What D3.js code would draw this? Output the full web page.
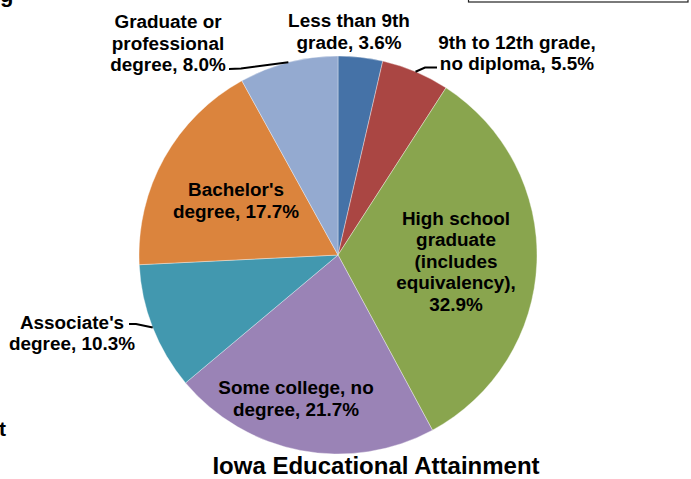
<!DOCTYPE html>
<html>
<head>
<meta charset="utf-8">
<script src="https://cdn.jsdelivr.net/npm/d3@7"></script>
<style>
  html, body { margin: 0; padding: 0; background: #fff; }
  svg { display: block; }
  text { font-family: "Liberation Sans", Arial, sans-serif; font-weight: bold; fill: #000; }
</style>
</head>
<body>
<svg id="chart" width="691" height="479"></svg>
<script>
// ---- data ----
const categories = [
  "Less than 9th grade",
  "9th to 12th grade, no diploma",
  "High school graduate (includes equivalency)",
  "Some college, no degree",
  "Associate's degree",
  "Bachelor's degree",
  "Graduate or professional degree"
];
const values = [3.6, 5.5, 32.9, 21.7, 10.3, 17.7, 8.0];
const labelLines = [
  ["Less than 9th", "grade, 3.6%"],
  ["9th to 12th grade,", "no diploma, 5.5%"],
  ["High school", "graduate", "(includes", "equivalency),", "32.9%"],
  ["Some college, no", "degree, 21.7%"],
  ["Associate's", "degree, 10.3%"],
  ["Bachelor's", "degree, 17.7%"],
  ["Graduate or", "professional", "degree, 8.0%"]
];
const colors = ["#4572A7", "#AA4643", "#89A54E", "#9A83B6", "#4298AF", "#DB843D", "#94AAD0"];
const title = "Iowa Educational Attainment";

// ---- layout (pixel positions, not data) ----
const cx = 338, cy = 255, R = 199;
const lineH = 21.5;
const labelLayout = [
  { x: 349, y: 27 },
  { x: 517, y: 48.5 },
  { x: 456, y: 224.5 },
  { x: 296, y: 394 },
  { x: 72, y: 328.5 },
  { x: 236, y: 196 },
  { x: 168, y: 28 }
];
const leaders = [
  null,
  { from: [437, 67.5], mid: [425, 67.5] },
  null,
  null,
  { from: [129, 324], mid: [136, 324] },
  null,
  { from: [229, 69], mid: [241, 68.5] }
];

const svg = d3.select("#chart");
const g = svg.append("g").attr("transform", `translate(${cx},${cy})`);

const pie = d3.pie().sort(null).value(d => d)(values);
const arc = d3.arc().innerRadius(0).outerRadius(R);

g.selectAll("path.slice")
  .data(pie)
  .join("path")
  .attr("class", "slice")
  .attr("d", arc)
  .attr("fill", (d, i) => colors[i])
  .attr("stroke", "#ffffff")
  .attr("stroke-width", 0.6)
  .attr("stroke-opacity", 0.6);

pie.forEach((d, i) => {
  const L = leaders[i];
  if (!L) return;
  const a = (d.startAngle + d.endAngle) / 2;
  const ex = cx + R * Math.sin(a), ey = cy - R * Math.cos(a);
  svg.append("polyline")
    .attr("points", [L.from, L.mid, [ex, ey]].map(p => p.join(",")).join(" "))
    .attr("fill", "none")
    .attr("stroke", "#000")
    .attr("stroke-width", 2);
});

labelLines.forEach((lines, i) => {
  const t = svg.append("text")
    .attr("text-anchor", "middle")
    .attr("font-size", 18.9)
    .attr("x", labelLayout[i].x)
    .attr("y", labelLayout[i].y);
  lines.forEach((ln, k) => {
    t.append("tspan")
      .attr("x", labelLayout[i].x)
      .attr("y", labelLayout[i].y + k * lineH)
      .text(ln);
  });
});

svg.append("text")
  .attr("x", 376).attr("y", 474)
  .attr("text-anchor", "middle")
  .attr("font-size", 24)
  .text(title);

// cropped fragments at edges of the original picture
svg.append("text").attr("x", 0).attr("y", 2).attr("font-size", 22).text("g");
svg.append("text").attr("x", -1).attr("y", 436).attr("font-size", 21).text("t");
svg.append("rect")
  .attr("x", 468.5).attr("y", -20)
  .attr("width", 219.5).attr("height", 22)
  .attr("fill", "none").attr("stroke", "#222").attr("stroke-width", 1.2);
</script>
</body>
</html>
